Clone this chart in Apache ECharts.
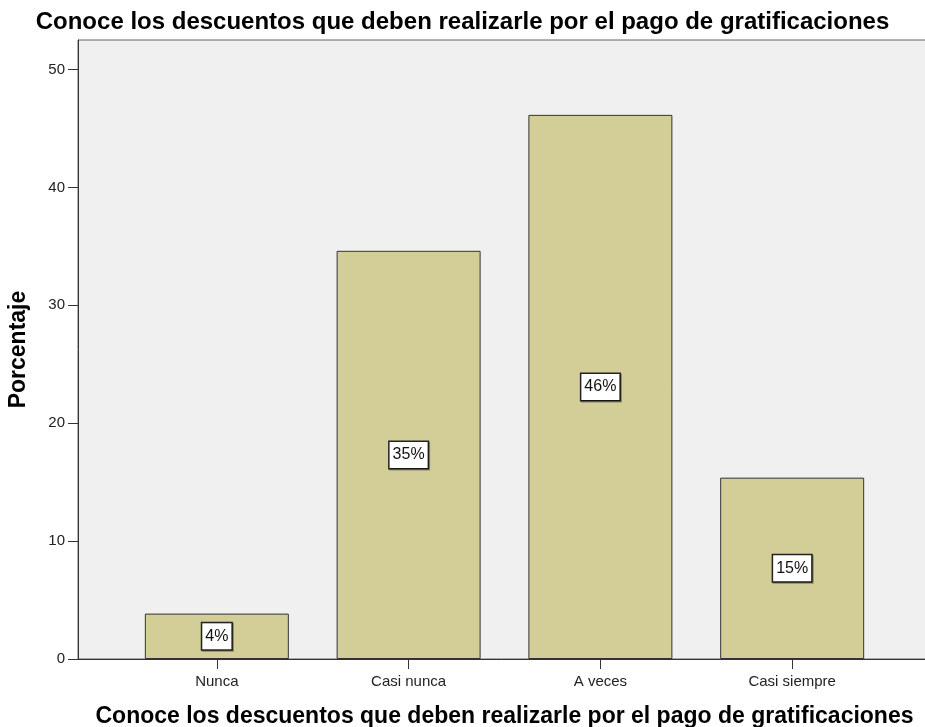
<!DOCTYPE html>
<html>
<head>
<meta charset="utf-8">
<script src="https://cdn.jsdelivr.net/npm/echarts@6/dist/echarts.min.js"></script>
<style>
  html, body { margin: 0; padding: 0; background: #fff; }
  #chart { width: 925px; height: 727px; }
</style>
</head>
<body>
<div id="chart"></div>
<script>
// --- Data (n = 26) ---
const titleText = 'Conoce los descuentos que deben realizarle por el pago de gratificaciones';
const categories = ['Nunca', 'Casi nunca', 'A veces', 'Casi siempre'];
const percentages = [3.85, 34.62, 46.15, 15.38];
const yTicks = [0, 10, 20, 30, 40, 50];

const FONT = '"Liberation Sans", Arial, sans-serif';

// bars sit on a value axis at 1..4 so the plot frame can extend past the bands
const positions = categories.map((_, i) => i + 1);
const barData = percentages.map((v, i) => [positions[i], v]);

const chart = echarts.init(document.getElementById('chart'), null, { renderer: 'canvas' });

chart.setOption({
    animation: false,
    backgroundColor: '#ffffff',
    title: {
        text: titleText,
        left: 'center',
        top: 5,
        textStyle: { fontFamily: FONT, fontSize: 24, fontWeight: 'bold', color: '#000' }
    },
    grid: {
        left: 78, top: 40, right: -6, bottom: 68,
        outerBoundsMode: 'none',
        containLabel: false,
        show: true, backgroundColor: '#f0f0f0', borderColor: '#666', borderWidth: 1
    },
    xAxis: {
        type: 'value',
        min: 0.276,
        max: 4.724,
        splitLine: { show: false },
        axisLine: { show: true, lineStyle: { color: '#333', width: 1 } },
        axisTick: { show: true, customValues: positions, length: 10, lineStyle: { color: '#333' } },
        axisLabel: {
            customValues: positions,
            formatter: (v) => categories[Math.round(v) - 1] || '',
            margin: 15,
            fontFamily: FONT, fontSize: 15, color: '#222'
        },
        name: titleText,
        nameLocation: 'middle',
        nameGap: 46,
        nameTextStyle: { fontFamily: FONT, fontSize: 23, fontWeight: 'bold', color: '#000' }
    },
    yAxis: {
        type: 'value',
        min: 0,
        max: 52.5,
        splitLine: { show: false },
        axisLine: { show: true, lineStyle: { color: '#333', width: 1 } },
        axisTick: { show: true, customValues: yTicks, length: 10, lineStyle: { color: '#333' } },
        axisLabel: {
            customValues: yTicks,
            margin: 13,
            fontFamily: FONT, fontSize: 15, color: '#222'
        },
        name: 'Porcentaje',
        nameLocation: 'middle',
        nameGap: 48,
        nameTextStyle: { fontFamily: FONT, fontSize: 23, fontWeight: 'bold', color: '#000' }
    },
    series: [{
        type: 'bar',
        data: barData,
        barWidth: 144,
        itemStyle: { color: '#d3ce97', borderColor: '#333', borderWidth: 1 },
        label: {
            show: true,
            position: 'inside',
            formatter: (p) => Math.round(p.value[1]) + '%',
            fontFamily: FONT,
            fontSize: 16,
            color: '#111',
            backgroundColor: '#ffffff',
            borderColor: '#222',
            borderWidth: 1.5,
            padding: [5, 3, 5, 3],
            shadowColor: 'rgba(0,0,0,0.35)',
            shadowOffsetX: 1,
            shadowOffsetY: 1
        }
    }]
});
</script>
</body>
</html>
